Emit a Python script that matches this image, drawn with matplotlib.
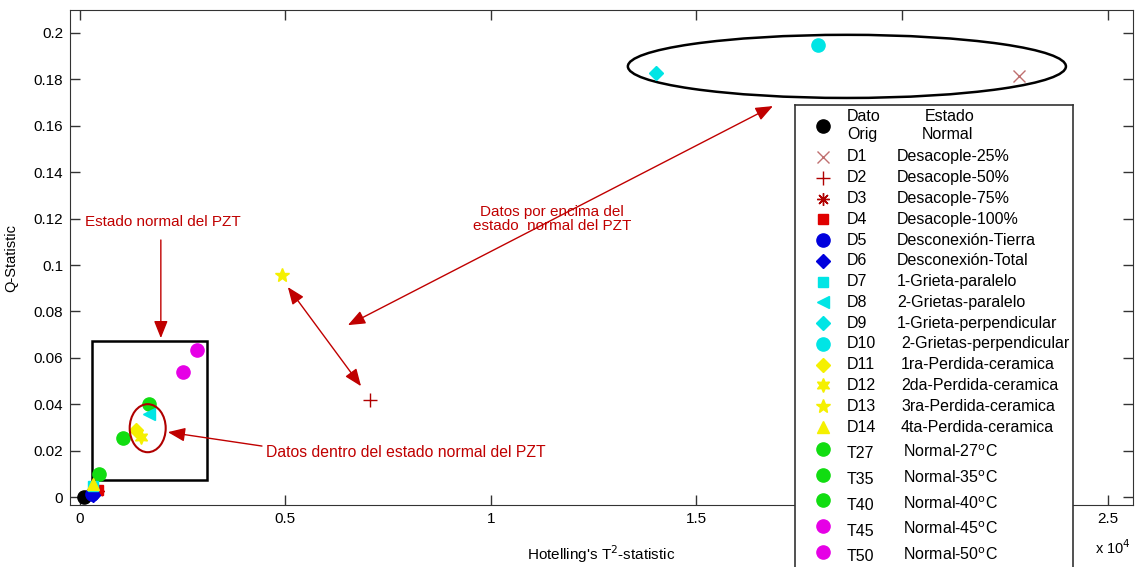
import matplotlib.pyplot as plt
from matplotlib.patches import Ellipse, Rectangle
from matplotlib.ticker import FuncFormatter

plt.rcParams['font.family'] = ['Liberation Sans', 'DejaVu Sans']
plt.rcParams['font.size'] = 11

# data: code, description, Hotelling T^2, Q statistic
codes = ['Dato', 'D1', 'D2', 'D3', 'D4', 'D5', 'D6', 'D7', 'D8', 'D9', 'D10',
         'D11', 'D12', 'D13', 'D14', 'T27', 'T35', 'T40', 'T45', 'T50']
descs = ['Estado', 'Desacople-25%', 'Desacople-50%', 'Desacople-75%',
         'Desacople-100%', 'Desconexión-Tierra', 'Desconexión-Total',
         '1-Grieta-paralelo', '2-Grietas-paralelo', '1-Grieta-perpendicular',
         '2-Grietas-perpendicular', '1ra-Perdida-ceramica',
         '2da-Perdida-ceramica', '3ra-Perdida-ceramica', '4ta-Perdida-ceramica',
         'Normal-27$^{\\rm o}$C', 'Normal-35$^{\\rm o}$C', 'Normal-40$^{\\rm o}$C',
         'Normal-45$^{\\rm o}$C', 'Normal-50$^{\\rm o}$C']
t2 = [100, 22850, 7060, 430, 440, 300, 320, 330, 1680, 14010, 17960,
      1360, 1480, 4910, 320, 460, 1050, 1680, 2500, 2850]
q = [0.0, 0.1815, 0.042, 0.0025, 0.003, 0.0012, 0.001, 0.005, 0.036, 0.1828,
     0.1948, 0.029, 0.026, 0.0957, 0.0055, 0.010, 0.0254, 0.040, 0.054, 0.0634]

# styles
markers = ['o', 'x', '+', (8, 2, 0), 's', 'o', 'D', 's', '<', 'D', 'o',
           'D', (6, 1, 0), '*', '^', 'o', 'o', 'o', 'o', 'o']
colors = ['k', '#C07070', '#B00000', '#B00000', '#E00000', '#0000DD', '#0000DD',
          '#00E5E5', '#00E5E5', '#00E5E5', '#00E5E5', '#F5F000', '#F5F000',
          '#F5F000', '#F5F000', '#11DD11', '#11DD11', '#11DD11', '#E600E6',
          '#E600E6']
msizes = [9.5, 8, 10, 9, 7, 9.5, 7, 7, 9, 7, 9.5, 7, 10, 10, 9, 9.5, 9.5,
          9.5, 9.5, 9.5]
zords = [3, 3, 3, 3, 3, 3, 3, 3, 5, 3, 3, 4, 4, 3, 3, 2, 2, 2, 2, 2]

red = '#C00000'

fig = plt.figure(figsize=(11.39, 5.67), dpi=100)
ax = fig.add_axes([70 / 1139, 62 / 567, 1063 / 1139, 495 / 567])

for i in range(len(codes)):
    ax.plot(t2[i], q[i], linestyle='none', marker=markers[i], color=colors[i],
            markersize=msizes[i], markeredgewidth=1, zorder=zords[i])


def xfmt(v, p):
    # the "2" label sits under the legend box in the original
    if abs(v - 20000) < 1:
        return ''
    return '%g' % (v / 1e4)


ax.set_xlim(-240, 25620)
ax.set_ylim(-0.0034, 0.2099)
ax.set_xticks([0, 5000, 10000, 15000, 20000, 25000])
ax.xaxis.set_major_formatter(FuncFormatter(xfmt))
ax.set_yticks([i * 0.02 for i in range(11)])
ax.yaxis.set_major_formatter(FuncFormatter(lambda v, p: '%g' % round(v, 3)))
ax.tick_params(direction='in', length=7, width=1, top=True, right=True,
               labelsize=11, pad=5, color='#333333')
for s in ax.spines.values():
    s.set_color('#333333')
ax.set_xlabel("Hotelling's T$^2$-statistic", fontsize=11)
ax.set_ylabel('Q-Statistic', fontsize=10.5)
ax.xaxis.set_label_coords(0.5, -0.077)
ax.yaxis.set_label_coords(-0.049, 0.5)
ax.text(0.964, -0.087, 'x 10$^4$', transform=ax.transAxes, fontsize=10.5,
        ha='left', va='center')

# annotations
ax.add_patch(Rectangle((290, 0.0073), 2800, 0.0599, fill=False, lw=1.8,
                       ec='k', zorder=1))
ax.add_patch(Ellipse((1650, 0.0297), 876, 0.0207, fill=False, lw=1.5,
                     ec='#B00000', zorder=6))
ax.add_patch(Ellipse((18660, 0.1856), 10657, 0.0272, fill=False, lw=1.8,
                     ec='k', zorder=1))

one = dict(arrowstyle='-|>,head_length=0.7,head_width=0.28', color=red, lw=1,
           shrinkA=0, shrinkB=0, mutation_scale=15)
two = dict(one, arrowstyle='<|-|>,head_length=0.7,head_width=0.28')
ax.annotate('', xy=(1970, 0.0685), xytext=(1970, 0.1108), arrowprops=one)
ax.annotate('', xy=(2140, 0.028), xytext=(4430, 0.022), arrowprops=one)
ax.annotate('', xy=(16860, 0.1685), xytext=(6520, 0.0741), arrowprops=two)
ax.annotate('', xy=(5060, 0.0905), xytext=(6840, 0.0478), arrowprops=two)

ax.text(120, 0.1185, 'Estado normal del PZT', color=red, fontsize=11,
        ha='left', va='center')
ax.text(4530, 0.0194, 'Datos dentro del estado normal del PZT', color=red,
        fontsize=11.3, ha='left', va='center')
ax.text(11480, 0.1198, 'Datos por encima del\nestado  normal del PZT',
        color=red, fontsize=11, ha='center', va='center', multialignment='center',
        linespacing=1.0)

# legend box, laid out in image pixel units
lg = fig.add_axes([795 / 1139, -33 / 567, 278 / 1139, 495 / 567], zorder=10)
lg.set_xlim(795, 1073)
lg.set_ylim(600, 105)
lg.set_xticks([])
lg.set_yticks([])
for s in lg.spines.values():
    s.set_color('#333333')
    s.set_linewidth(1.2)

fs = 11.5
for i in range(len(codes)):
    if i == 0:
        ym = 126
        lg.text(847, 117, 'Dato', ha='left', va='center', fontsize=fs)
        lg.text(847, 135, 'Orig', ha='left', va='center', fontsize=fs)
        lg.text(950, 117, 'Estado', ha='center', va='center', fontsize=fs)
        lg.text(947, 135, 'Normal', ha='center', va='center', fontsize=fs)
    elif i <= 14:
        ym = 157 + (i - 1) * 20.77
        xd = 897 if i < 10 else 901
        lg.text(847, ym, codes[i], ha='left', va='center', fontsize=fs)
        lg.text(xd, ym, descs[i], ha='left', va='center', fontsize=fs)
    else:
        yt = 454 + (i - 15) * 25.7
        ym = yt - 5
        lg.text(847, yt, codes[i], ha='left', va='center', fontsize=fs)
        lg.text(903, yt - 2, descs[i], ha='left', va='center', fontsize=fs)
    lg.plot(823, ym, linestyle='none', marker=markers[i], color=colors[i],
            markersize=msizes[i], markeredgewidth=1)

fig.savefig('out.png', dpi=100)
